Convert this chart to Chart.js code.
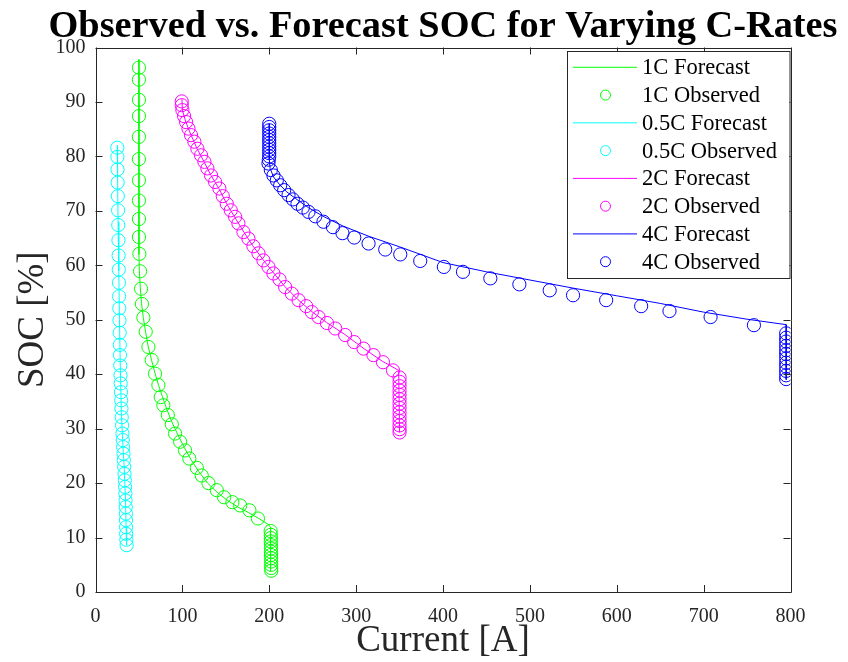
<!DOCTYPE html>
<html>
<head>
<meta charset="utf-8">
<script src="https://cdn.jsdelivr.net/npm/chart.js@4/dist/chart.umd.min.js"></script>
<style>
  html, body { margin: 0; padding: 0; background: #fff; }
</style>
</head>
<body>
<canvas id="socChart" width="848" height="662"></canvas>
<script>
// SOC vs current, forecast lines and observed samples for four C-rates

const titleText = 'Observed vs. Forecast SOC for Varying C-Rates';
const xLabel = 'Current [A]';
const yLabel = 'SOC [%]';
const xTicks = [0, 100, 200, 300, 400, 500, 600, 700, 800];
const yTicks = [0, 10, 20, 30, 40, 50, 60, 70, 80, 90, 100];

// 1C
const oneCFcstX = [50, 50, 50.5, 51.5, 53, 55, 57.5, 60.5, 64.5, 68.5, 72.5, 77, 82, 88, 95, 102, 110, 119, 129, 140, 152, 164, 176, 188, 199, 201.5, 201.5];
const oneCFcstY = [97.8, 62, 59, 56, 53, 50.4, 47.9, 45.2, 42.6, 40.2, 38, 35.9, 33.6, 31.2, 28.8, 26.6, 24.3, 22.1, 20, 18.3, 16.8, 15.6, 14.6, 13.5, 12.4, 11.9, 3.8];
const oneCObsX = [50, 50, 50, 50, 50, 50, 50, 50, 50, 50,
  50.5, 51.3, 52.4, 53.4, 55.1, 57.8, 60.9, 64.7, 68.5, 72.4,
  75.1, 78.1, 83.2, 87.8, 91.6, 97.4, 103.1, 108, 116.6, 122.3,
  130, 139.6, 148, 157.6, 166.5, 177.2, 187,
  201.6, 201.8, 201.8, 201.8, 202, 202, 202, 202, 202.2, 202.2, 202.2, 202.3, 202.3];
const oneCObsY = [96.3, 94.1, 90.4, 87.4, 83.6, 79.5, 75.6, 71.9, 68.5, 65.2,
  62.1, 58.9, 55.7, 52.9, 50.4, 47.8, 45, 42.6, 40.1, 38,
  35.8, 34.3, 32.5, 30.8, 29.1, 27.6, 26, 24.5, 22.8, 21.4,
  20, 18.7, 17.4, 16.5, 15.9, 15, 13.5,
  11.2, 10.5, 9.9, 9.3, 8.6, 8, 7.4, 6.8, 6.2, 5.6, 5, 4.4, 3.9];

// 0.5C
const halfCFcstX = [25, 25.4, 26, 26.8, 27.6, 28.6, 29.8, 31.2, 33, 34.5, 35.2, 35.8];
const halfCFcstY = [82, 76, 68, 59, 50, 41, 33, 28, 23, 17, 12, 8.6];
const halfCObsX = [25.1, 25.2, 25.3, 25.5, 25.7, 26, 26.2, 26.4, 26.6, 26.8,
  27, 27.2, 27.4, 27.6, 27.8, 28, 28.2, 28.5, 28.8, 29,
  29.3, 29.6, 29.9, 30.2, 30.6, 31, 31.4, 31.8, 32.2, 32.6,
  33, 33.4, 33.8, 34.1, 34.4, 34.6, 34.8, 35, 35.1, 35.2,
  35.3, 35.5, 35.8];
const halfCObsY = [81.6, 79.9, 77.6, 75.2, 72.7, 70.1, 67.4, 64.6, 61.8, 59.2,
  56.8, 54.3, 52.1, 49.9, 47.6, 45.4, 43.5, 41.6, 39.8, 38.3,
  36.7, 35.2, 33.7, 32.1, 30.6, 29.1, 27.9, 26.6, 25.4, 24.2,
  23, 21.7, 20.5, 19.3, 18.1, 16.8, 15.6, 14.4, 13.2, 11.9,
  10.7, 9.6, 8.6];

// 2C
const twoCFcstX = [99.5, 100, 104, 110, 117, 125, 133, 142, 151, 160, 170, 181, 193, 205, 218, 233, 249, 266, 287, 308, 330, 349, 350];
const twoCFcstY = [90.5, 88.5, 86.3, 83.9, 81.4, 79, 76.5, 74.1, 71.3, 68.9, 66.3, 63.6, 61, 58.6, 56.1, 53.7, 51.5, 49.5, 47.3, 44.8, 42.4, 40.7, 29.3];
const twoCObsX = [99.3, 99.3, 100, 102, 104.3, 107, 110, 113.8, 117.3, 121.5,
  125.4, 128.8, 133, 137.7, 142.6, 146.5, 151.1, 155.7, 160.7, 164.5,
  170.3, 176, 181.8, 187.6, 193.3, 199.1, 204.8, 211.8, 218.3, 226,
  233.7, 242.5, 249, 256.7, 266.4, 275.9, 287.4, 297.8, 308.5, 320,
  330.9, 342.4,
  350, 350, 350, 350, 350, 350, 350, 350, 350, 350, 350, 350, 350, 350];
const twoCObsY = [90.1, 89.4, 88.5, 87.4, 86.3, 85.1, 83.9, 82.7, 81.4, 80.2,
  79, 77.8, 76.5, 75.3, 74.1, 72.7, 71.3, 70.1, 68.9, 67.7,
  66.1, 64.9, 63.5, 62.2, 60.9, 59.7, 58.5, 57.4, 56, 54.8,
  53.6, 52.5, 51.4, 50.5, 49.4, 48.4, 47.2, 45.9, 44.7, 43.5,
  42.2, 40.7,
  39.4, 38.6, 37.8, 37, 36.2, 35.4, 34.6, 33.8, 33, 32.2, 31.4, 30.6, 29.9, 29.3];

// 4C
const fourCFcstX = [200, 200, 201, 205, 212, 220, 230, 245, 262, 285, 315, 350, 400, 450, 500, 550, 600, 650, 700, 750, 795, 795];
const fourCFcstY = [86, 79.5, 77.8, 76.2, 74.8, 73.5, 72.3, 70.6, 69, 67.2, 65.3, 63.4, 60.5, 58.8, 57.3, 55.8, 54.4, 53, 51.4, 50.1, 49.1, 39];
const fourCObsX = [200, 200, 200, 200, 200, 200, 200, 200, 200, 200, 200,
  199.5, 199.1, 201.8, 204.8, 208.7, 212.6, 217.2, 222.2, 227.2, 232.5,
  238.7, 245.2, 253, 262.4, 273.3, 284.3, 297.8, 314.3, 333.5, 350.8,
  373.8, 401, 423, 454.5, 487.9, 522.8, 549.7, 587.8, 628.1, 660.7,
  708, 757.9,
  795, 795, 795, 795, 795, 795, 795, 795, 795, 795, 795, 795];
const fourCObsY = [86, 85.4, 84.8, 84.2, 83.6, 83, 82.4, 81.8, 81.2, 80.6, 80,
  79.4, 78.7, 77.5, 76.5, 75.6, 74.7, 73.8, 72.9, 72.1, 71.3,
  70.6, 69.8, 69, 68, 67, 65.9, 65.1, 64, 62.9, 62,
  60.8, 59.7, 58.8, 57.6, 56.5, 55.4, 54.5, 53.6, 52.5, 51.6,
  50.5, 49,
  47.5, 46.7, 46, 45.2, 44.4, 43.7, 42.9, 42.1, 41.4, 40.6, 39.8, 39.1];

const serif = "'Liberation Serif', 'Times New Roman', serif";
const axisColor = '#262626';

function pts(xs, ys) {
  return xs.map((x, i) => ({ x: x, y: ys[i] }));
}

function forecast(label, color, xs, ys) {
  return {
    label: label, data: pts(xs, ys), showLine: true,
    borderColor: color, backgroundColor: color, borderWidth: 1,
    pointRadius: 0, pointHoverRadius: 0
  };
}

function observed(label, color, xs, ys) {
  return {
    label: label, data: pts(xs, ys), showLine: false,
    borderColor: color, backgroundColor: 'rgba(0,0,0,0)',
    pointStyle: 'circle', pointRadius: 6.6, pointBorderWidth: 1, pointHoverRadius: 6.6
  };
}

const datasets = [
  forecast('1C Forecast', '#00ff00', oneCFcstX, oneCFcstY),
  observed('1C Observed', '#00ff00', oneCObsX, oneCObsY),
  forecast('0.5C Forecast', '#00ffff', halfCFcstX, halfCFcstY),
  observed('0.5C Observed', '#00ffff', halfCObsX, halfCObsY),
  forecast('2C Forecast', '#ff00ff', twoCFcstX, twoCFcstY),
  observed('2C Observed', '#ff00ff', twoCObsX, twoCObsY),
  forecast('4C Forecast', '#0000ff', fourCFcstX, fourCFcstY),
  observed('4C Observed', '#0000ff', fourCObsX, fourCObsY)
];

// axes box, inward ticks, title, axis labels and the legend box
const decorations = {
  id: 'decorations',
  afterDraw(chart) {
    const ctx = chart.ctx;
    const a = chart.chartArea;
    const xs = chart.scales.x, ys = chart.scales.y;
    ctx.save();

    ctx.strokeStyle = axisColor;
    ctx.lineWidth = 1;
    ctx.beginPath();
    ctx.rect(Math.round(a.left) + 0.5, Math.round(a.top) + 0.5,
      Math.round(a.right) - Math.round(a.left), Math.round(a.bottom) - Math.round(a.top));
    const tl = 7;
    xTicks.forEach(v => {
      const px = Math.round(xs.getPixelForValue(v)) + 0.5;
      ctx.moveTo(px, a.bottom); ctx.lineTo(px, a.bottom - tl);
      ctx.moveTo(px, a.top); ctx.lineTo(px, a.top + tl);
    });
    yTicks.forEach(v => {
      const py = Math.round(ys.getPixelForValue(v)) + 0.5;
      ctx.moveTo(a.left, py); ctx.lineTo(a.left + tl, py);
      ctx.moveTo(a.right, py); ctx.lineTo(a.right - tl, py);
    });
    ctx.stroke();

    // title, squeezed to span the plot width
    ctx.fillStyle = '#000';
    ctx.font = 'bold 38px ' + serif;
    ctx.textAlign = 'center';
    ctx.textBaseline = 'alphabetic';
    const cx = (a.left + a.right) / 2;
    const tw = ctx.measureText(titleText).width;
    ctx.save();
    ctx.translate(cx, 37);
    ctx.scale(789 / tw, 1);
    ctx.fillText(titleText, 0, 0);
    ctx.restore();

    // axis labels
    ctx.fillStyle = axisColor;
    ctx.font = '37px ' + serif;
    ctx.fillText(xLabel, cx, 651);
    ctx.save();
    ctx.translate(43, (a.top + a.bottom) / 2);
    ctx.rotate(-Math.PI / 2);
    ctx.fillText(yLabel, 0, 0);
    ctx.restore();

    // legend
    const lx = 567, ly = 51, lw = 222.5, lh = 227;
    ctx.fillStyle = '#fff';
    ctx.fillRect(lx, ly, lw, lh);
    ctx.strokeStyle = axisColor;
    ctx.strokeRect(lx + 0.5, ly + 0.5, lw, lh);
    ctx.font = '22.5px ' + serif;
    ctx.textAlign = 'left';
    ctx.textBaseline = 'middle';
    chart.data.datasets.forEach((ds, i) => {
      const ry = 67.3 + i * 27.77;
      ctx.strokeStyle = ds.borderColor;
      ctx.lineWidth = 1;
      ctx.beginPath();
      if (ds.showLine) {
        ctx.moveTo(573, ry); ctx.lineTo(637, ry);
      } else {
        ctx.arc(605.5, ry, 5, 0, Math.PI * 2);
      }
      ctx.stroke();
      ctx.fillStyle = '#000';
      ctx.fillText(ds.label, 642, ry + 1);
    });

    ctx.restore();
  }
};

new Chart(document.getElementById('socChart'), {
  type: 'scatter',
  data: { datasets: datasets },
  options: {
    responsive: false,
    animation: false,
    events: [],
    layout: { padding: { top: 47.5, right: 57.5, left: 0, bottom: 0 } },
    plugins: { legend: { display: false }, tooltip: { enabled: false } },
    elements: { line: { tension: 0 } },
    scales: {
      x: {
        type: 'linear', min: 0, max: 800,
        afterBuildTicks: s => { s.ticks = xTicks.map(v => ({ value: v })); },
        afterFit: s => { s.height = 70; },
        grid: { display: false, drawTicks: false },
        border: { display: false },
        ticks: { color: axisColor, font: { family: serif, size: 20 }, padding: 13, maxRotation: 0 }
      },
      y: {
        type: 'linear', min: 0, max: 100,
        afterBuildTicks: s => { s.ticks = yTicks.map(v => ({ value: v })); },
        afterFit: s => { s.width = 95.5; },
        grid: { display: false, drawTicks: false },
        border: { display: false },
        ticks: { color: axisColor, font: { family: serif, size: 20 }, padding: 10 }
      }
    }
  },
  plugins: [decorations]
});
</script>
</body>
</html>
